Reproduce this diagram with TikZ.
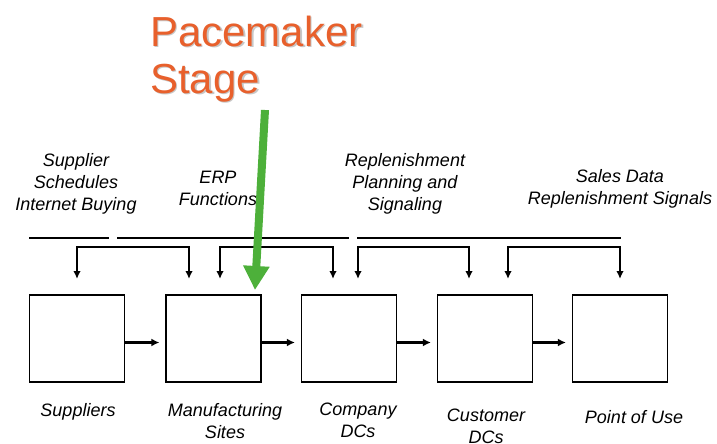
\documentclass[tikz,border=0pt]{standalone}
\usepackage{fontspec}
\setmainfont{Liberation Sans}
\usetikzlibrary{arrows.meta,calc}
\definecolor{pace}{HTML}{E8602C}
\definecolor{pgreen}{HTML}{4DB03A}
\begin{document}
\begin{tikzpicture}[x=1pt,y=-1pt,
  stagebox/.style={draw,line width=1.3pt,minimum width=95pt,minimum height=87pt,inner sep=0pt},
  lbl/.style={font=\fontsize{18}{22}\selectfont\itshape,align=center,inner sep=0pt},
  flow/.style={line width=2.6pt,-{Latex[length=8pt,width=8pt]}},
  bracket/.style={line width=1.8pt,{Latex[length=8pt,width=7.5pt]}-{Latex[length=8pt,width=7.5pt]}},
  rule/.style={line width=1.1pt}]
\useasboundingbox (0,0) rectangle (717,444);
% boxes
\node[stagebox] (s1) at (77,338.5) {};
\node[stagebox] (s2) at (213.5,338.5) {};
\node[stagebox] (s3) at (349,338.5) {};
\node[stagebox] (s4) at (485,338.5) {};
\node[stagebox] (s5) at (620,338.5) {};
% flow arrows
\foreach \a/\b in {s1/s2,s2/s3,s3/s4,s4/s5}
  \draw[flow] ($(\a.east)+(0,4)$) -- ($(\b.west)+(-6,4)$);
% bottom labels
\node[lbl] (l1) at (78,412) {Suppliers};
\node[lbl,anchor=north] (l2) at (225,403) {Manufacturing\\Sites};
\node[lbl,anchor=north] (l3) at (358,403) {Company\\DCs};
\node[lbl,anchor=north] (l4) at (486,409) {Customer\\DCs};
\node[lbl] (l5) at (634,417) {Point of Use};
% top labels
\node[lbl] (t1) at (76,184) {Supplier\\Schedules\\Internet Buying};
\node[lbl] (t2) at (218,188) {ERP\\Functions};
\node[lbl] (t3) at (405,184) {Replenishment\\Planning and\\Signaling};
\node[lbl] (t4) at (620,189) {Sales Data\\Replenishment Signals};
% rules
\coordinate (r1a) at (29,238); \coordinate (r1b) at (109,238);
\coordinate (r2a) at (117,238); \coordinate (r2b) at (349,238);
\coordinate (r3a) at (357,238); \coordinate (r3b) at (621,238);
\draw[rule] (r1a) -- (r1b);
\draw[rule] (r2a) -- (r2b);
\draw[rule] (r3a) -- (r3b);
% brackets
\coordinate (b1a) at (77,279); \coordinate (b1b) at (189,279);
\coordinate (b2a) at (220,279); \coordinate (b2b) at (333,279);
\coordinate (b3a) at (358,279); \coordinate (b3b) at (469,279);
\coordinate (b4a) at (508,279); \coordinate (b4b) at (620,279);
\foreach \p in {b1,b2,b3,b4}
  \draw[bracket] (\p a) -- ($(\p a)+(0,-32)$) -- ($(\p b)+(0,-32)$) -- (\p b);
% pacemaker (with soft shadow)
\node[anchor=west,text=black!22,font=\fontsize{42}{47}\selectfont,align=left,inner sep=0pt] (pms) at (151.5,60.5) {Pacemaker\\Stage};
\node[anchor=west,text=pace,font=\fontsize{42}{47}\selectfont,align=left,inner sep=0pt] (pm) at (150,59) {Pacemaker\\Stage};
\coordinate (gs) at (265,110);
\coordinate (ge) at (255,290);
\draw[pgreen,line width=8pt,-{Triangle[length=24pt,width=25pt]}] (gs) -- (ge);
\end{tikzpicture}
\end{document}
